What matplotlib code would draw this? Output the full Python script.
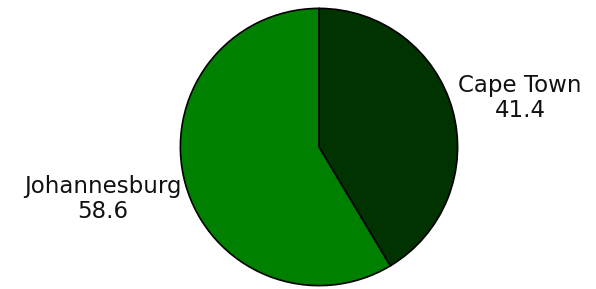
import matplotlib
matplotlib.use("Agg")
import matplotlib.pyplot as plt

categories = ["Cape Town", "Johannesburg"]
values = [41.4, 58.6]
colors = ["#003300", "#008000"]

W, H = 596, 289
fig = plt.figure(figsize=(W/100, H/100), dpi=100)
cx, cy, r = 319, 147, 140
ax = fig.add_axes([(cx-r)/W, (H-cy-r)/H, 2*r/W, 2*r/H])
ax.pie(values, colors=colors, startangle=90, counterclock=False,
       wedgeprops=dict(edgecolor="black", linewidth=1.2), radius=1.0)
ax.set_xlim(-1.01, 1.01)
ax.set_ylim(-1.01, 1.01)
ax.set_aspect("equal")
ax.axis("off")

label_pos = {"Cape Town": (520, 98), "Johannesburg": (103, 199)}
for c, v in zip(categories, values):
    px, py = label_pos[c]
    fig.text(px/W, 1-py/H, f"{c}\n{v}", ha="center", va="center",
             fontsize=16.5, family="DejaVu Sans", linespacing=1.08, color="#111111")

fig.savefig("out.png", dpi=100)
